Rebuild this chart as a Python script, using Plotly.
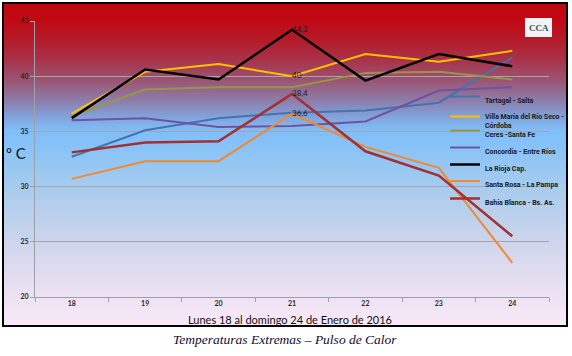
import numpy as np
import plotly.graph_objects as go

# ---------------- data ----------------
days = ["18", "19", "20", "21", "22", "23", "24"]
tartagal = [32.7, 35.1, 36.2, 36.7, 36.9, 37.6, 41.7]
villa_maria = [36.6, 40.4, 41.1, 40.0, 42.0, 41.3, 42.3]
ceres = [36.4, 38.8, 39.0, 39.0, 40.3, 40.4, 39.7]
concordia = [36.0, 36.2, 35.4, 35.5, 35.9, 38.7, 39.0]
la_rioja = [36.2, 40.6, 39.7, 44.2, 39.6, 42.0, 40.9]
santa_rosa = [30.7, 32.3, 32.3, 36.6, 33.6, 31.7, 23.1]
bahia_blanca = [33.1, 34.0, 34.1, 38.4, 33.2, 31.0, 25.5]

series_names = [
    "Tartagal - Salta",
    "Villa María del Río Seco -<br>Córdoba",
    "Ceres -Santa Fe",
    "Concordia - Entre Ríos",
    "La Rioja Cap.",
    "Santa Rosa - La Pampa",
    "Bahía Blanca - Bs. As.",
]
series_values = [tartagal, villa_maria, ceres, concordia, la_rioja, santa_rosa, bahia_blanca]
labelled_day_index = 3  # the day (21) whose values carry data labels
labelled_series = [4, 1, 6, 5]  # La Rioja, Villa María, Bahía Blanca, Santa Rosa

x_title = "Lunes 18 al domingo 24 de Enero de 2016"
y_title = "º C"
caption = "Temperaturas Extremas – Pulso de Calor"

# ---------------- style ----------------
colors = ["#4374b0", "#ffc000", "#9a9447", "#7052a0", "#000000", "#f08a30", "#a23030"]
widths = [2, 2, 2, 2, 2.5, 2, 2.5]

W, H = 572, 356
ML, MR, MT, MB = 35, 23, 21, 59
PW, PH = W - ML - MR, H - MT - MB


def px_to_paper_x(px):
    return (px - ML) / PW


def px_to_paper_y(py):
    return (H - MB - py) / PH


def fmt(v):
    return f"{int(v)}" if v == int(v) else f"{v:.1f}".replace(".", ",")


# background gradient stops (pixel row, rgb)
grad_rows = [3, 20, 40, 60, 80, 100, 115, 130, 145, 190, 240, 290, 326]
grad_cols = [(192, 8, 16), (192, 10, 20), (180, 28, 42), (168, 52, 75), (155, 85, 115),
             (140, 125, 170), (130, 160, 215), (128, 190, 250), (135, 195, 248),
             (170, 205, 238), (205, 213, 236), (235, 225, 243), (250, 234, 248)]

fig = go.Figure()

for i, (name, vals) in enumerate(zip(series_names, series_values)):
    labels = [fmt(v) if (i in labelled_series and j == labelled_day_index) else ""
              for j, v in enumerate(vals)]
    fig.add_trace(go.Scatter(
        x=days, y=vals, name=name, mode="lines+text", text=labels,
        textposition="middle right",
        textfont=dict(family="Lato, sans-serif", size=8, color="#1a1a1a"),
        line=dict(color=colors[i], width=widths[i]),
        legend="legend" if i == 0 else f"legend{i + 1}",
        hoverinfo="skip",
    ))

shapes = []
rows = np.arange(3, 326)
rr = np.interp(rows, grad_rows, [c[0] for c in grad_cols])
gg = np.interp(rows, grad_rows, [c[1] for c in grad_cols])
bb = np.interp(rows, grad_rows, [c[2] for c in grad_cols])
for py, r, g, b in zip(rows, rr, gg, bb):
    shapes.append(dict(type="rect", xref="paper", yref="paper",
                       x0=px_to_paper_x(3), x1=px_to_paper_x(567),
                       y0=px_to_paper_y(py + 1.3), y1=px_to_paper_y(py),
                       line=dict(width=0), fillcolor=f"rgb({int(r)},{int(g)},{int(b)})",
                       layer="below"))
# outer frame
shapes.append(dict(type="rect", xref="paper", yref="paper",
                   x0=px_to_paper_x(3), x1=px_to_paper_x(567),
                   y0=px_to_paper_y(326), y1=px_to_paper_y(3),
                   line=dict(color="#000000", width=2), fillcolor="rgba(0,0,0,0)",
                   layer="above"))
# logo box
shapes.append(dict(type="rect", xref="paper", yref="paper",
                   x0=px_to_paper_x(525), x1=px_to_paper_x(552),
                   y0=px_to_paper_y(37), y1=px_to_paper_y(18),
                   line=dict(width=0), fillcolor="#f2f4f4", layer="above"))
fig.add_annotation(xref="paper", yref="paper", x=px_to_paper_x(538.5), y=px_to_paper_y(27.5),
                   text="<b>CCA</b>", showarrow=False, xanchor="center", yanchor="middle",
                   font=dict(family="Liberation Serif, serif", size=9, color="#2a5868"))

# axis titles / caption
fig.add_annotation(xref="paper", yref="paper", x=px_to_paper_x(16), y=px_to_paper_y(153),
                   text=y_title, showarrow=False, xanchor="center", yanchor="middle",
                   font=dict(family="Lato, sans-serif", size=15, color="#111111"))
fig.add_annotation(xref="paper", yref="paper", x=px_to_paper_x(290), y=px_to_paper_y(319),
                   text=x_title, showarrow=False, xanchor="center", yanchor="middle",
                   font=dict(family="Lato, sans-serif", size=11, color="#111111"))
fig.add_annotation(xref="paper", yref="paper", x=px_to_paper_x(285), y=px_to_paper_y(339),
                   text=f"<i>{caption}</i>", showarrow=False, xanchor="center", yanchor="middle",
                   font=dict(family="Liberation Serif, serif", size=13.5, color="#0c0c36"))

legend_rows = [100, 121.5, 134, 151, 168, 184.5, 202]
legend_font = dict(family="Liberation Sans Narrow, Roboto, sans-serif", size=7,
                   color="#1a1a1a", weight="bold")
legend_x = px_to_paper_x(445)
legends = {}
for i, py in enumerate(legend_rows):
    key = "legend" if i == 0 else f"legend{i + 1}"
    legends[key] = dict(x=legend_x, y=px_to_paper_y(py), xanchor="left", yanchor="middle",
                        bgcolor="rgba(0,0,0,0)", borderwidth=0, font=legend_font,
                        itemwidth=30, valign="top")

tick_font = dict(family="Lato, sans-serif", size=7, color="#2a2a2a", weight="bold")
fig.update_layout(
    width=W, height=H, autosize=False,
    margin=dict(l=ML, r=MR, t=MT, b=MB, pad=0, autoexpand=False),
    paper_bgcolor="white", plot_bgcolor="rgba(0,0,0,0)",
    shapes=shapes, showlegend=True,
    xaxis=dict(type="category", range=[-0.5, 6.5], showgrid=False, showline=True,
               linecolor="#a0a0a8", linewidth=1, ticks="outside", ticklen=4,
               tickcolor="#a0a0a8", tickson="boundaries", tickfont=tick_font, zeroline=False,
               automargin=False),
    yaxis=dict(range=[20, 45], dtick=5, showgrid=True, gridcolor="#a4a4ac", gridwidth=1,
               showline=True, linecolor="#a0a0a8", ticks="outside", ticklen=4,
               tickcolor="#a0a0a8", tickfont=tick_font, zeroline=False, automargin=False),
    **legends,
)

fig.write_html("out.html", config={"displayModeBar": False},
               post_script="document.body.style.margin='0';document.body.style.overflow='hidden';")
